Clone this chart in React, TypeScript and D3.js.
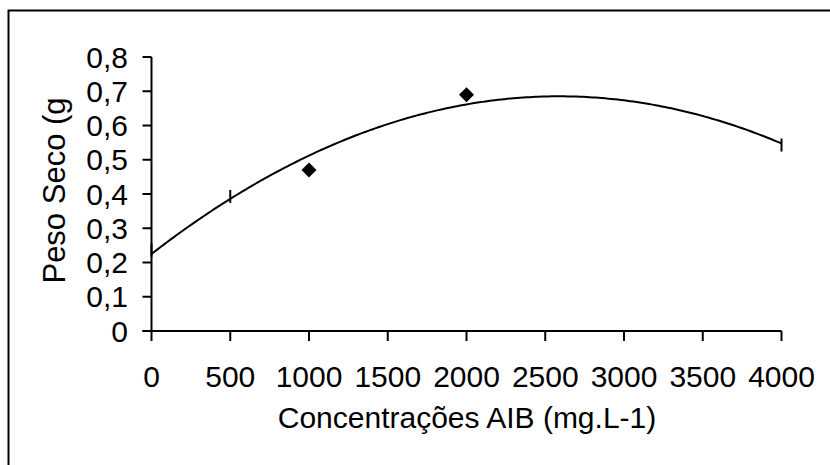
import React from "react";
import * as d3 from "d3";

// Data
const concentrations = [0, 500, 1000, 2000, 4000];
const pesoSeco = [0.236, 0.393, 0.47, 0.69, 0.543];
// marker shape per point ("dash" = short vertical bar, "diamond" = filled diamond)
const markerShapes = ["dash", "dash", "diamond", "diamond", "dash"];

const xTicks = [0, 500, 1000, 1500, 2000, 2500, 3000, 3500, 4000];
const yTicks = [0, 0.1, 0.2, 0.3, 0.4, 0.5, 0.6, 0.7, 0.8];
const yTickLabels = ["0", "0,1", "0,2", "0,3", "0,4", "0,5", "0,6", "0,7", "0,8"];

const xTitle = "Concentrações AIB (mg.L-1)";
const yTitle = "Peso Seco (g";

// least squares polynomial (degree 2) trendline, as Excel does
function quadFit(xs: number[], ys: number[]) {
  const n = xs.length;
  let s1 = 0, s2 = 0, s3 = 0, s4 = 0, t0 = 0, t1 = 0, t2 = 0;
  for (let i = 0; i < n; i++) {
    const x = xs[i], y = ys[i];
    s1 += x; s2 += x * x; s3 += x ** 3; s4 += x ** 4;
    t0 += y; t1 += x * y; t2 += x * x * y;
  }
  const M = [
    [n, s1, s2, t0],
    [s1, s2, s3, t1],
    [s2, s3, s4, t2],
  ];
  for (let i = 0; i < 3; i++) {
    for (let k = i + 1; k < 3; k++) {
      const f = M[k][i] / M[i][i];
      for (let j = i; j < 4; j++) M[k][j] -= f * M[i][j];
    }
  }
  const c = [0, 0, 0];
  for (let i = 2; i >= 0; i--) {
    let s = M[i][3];
    for (let j = i + 1; j < 3; j++) s -= M[i][j] * c[j];
    c[i] = s / M[i][i];
  }
  return (x: number) => c[0] + c[1] * x + c[2] * x * x;
}

export default function App() {
  const W = 830, H = 465;
  const x = d3.scaleLinear().domain([0, 4000]).range([151.5, 781.5]);
  const y = d3.scaleLinear().domain([0, 0.8]).range([331, 57]);
  const f = quadFit(concentrations.map((d) => d / 1000), pesoSeco);
  const curveX = d3.range(0, 4000.001, 20);
  const line = d3
    .line<number>()
    .x((d) => x(d))
    .y((d) => y(f(d / 1000)));
  const font = "'Liberation Sans', Arial, sans-serif";
  const fs = 30;
  return (
    <svg
      width={W}
      height={H}
      style={{ position: "absolute", left: 0, top: 0, background: "#fff" }}
      fontFamily={font}
    >
      <rect x={0} y={0} width={W} height={H} fill="#fff" />
      <rect x={8.5} y={10.5} width={W + 20} height={H + 20} fill="none" stroke="#000" strokeWidth={2} />
      {/* y axis */}
      <line x1={x(0)} x2={x(0)} y1={y(0.8)} y2={y(0)} stroke="#000" strokeWidth={2} />
      {yTicks.map((t, i) => (
        <g key={"yt" + i}>
          <line x1={x(0) - 9} x2={x(0)} y1={y(t)} y2={y(t)} stroke="#000" strokeWidth={2} />
          <text x={128} y={y(t) + 10.5} fontSize={fs} textAnchor="end" fill="#000">
            {yTickLabels[i]}
          </text>
        </g>
      ))}
      {/* x axis */}
      <line x1={x(0) - 9} x2={x(4000)} y1={y(0)} y2={y(0)} stroke="#000" strokeWidth={2} />
      {xTicks.map((t, i) => (
        <g key={"xt" + i}>
          <line x1={x(t)} x2={x(t)} y1={y(0)} y2={y(0) + 10} stroke="#000" strokeWidth={2} />
          <text x={x(t)} y={387} fontSize={fs} textAnchor="middle" fill="#000">
            {t}
          </text>
        </g>
      ))}
      {/* titles */}
      <text x={467} y={428} fontSize={fs} textAnchor="middle" fill="#000">
        {xTitle}
      </text>
      <text
        transform={`translate(65,190.5) rotate(-90)`}
        fontSize={31}
        textAnchor="middle"
        fill="#000"
      >
        {yTitle}
      </text>
      {/* trendline */}
      <path d={line(curveX) || ""} fill="none" stroke="#000" strokeWidth={2} />
      {/* markers */}
      {concentrations.map((c, i) => {
        const cx = x(c), cy = y(pesoSeco[i]);
        if (markerShapes[i] === "diamond") {
          const r = 7.5;
          return (
            <path
              key={"m" + i}
              d={`M${cx},${cy - r}L${cx + r},${cy}L${cx},${cy + r}L${cx - r},${cy}Z`}
              fill="#000"
            />
          );
        }
        return (
          <line key={"m" + i} x1={cx} x2={cx} y1={cy - 6.5} y2={cy + 6.5} stroke="#000" strokeWidth={2} />
        );
      })}
    </svg>
  );
}
